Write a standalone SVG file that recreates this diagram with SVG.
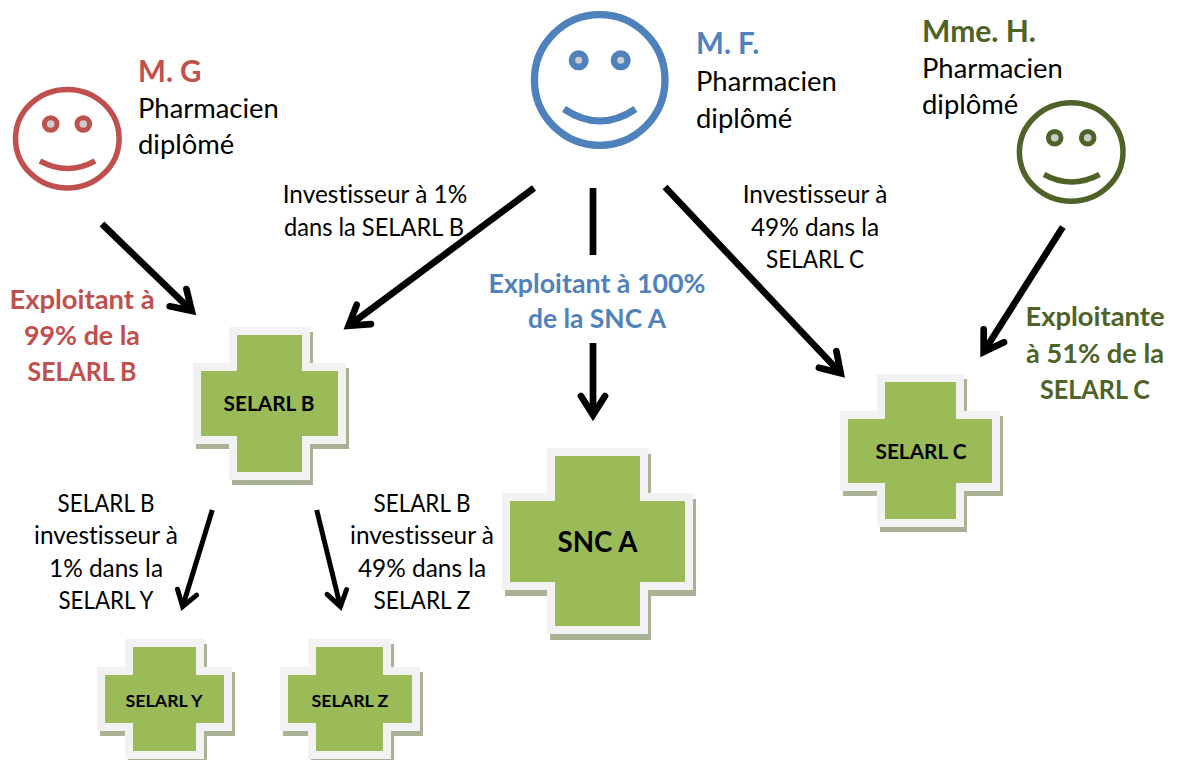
<svg xmlns="http://www.w3.org/2000/svg" width="1178" height="760" viewBox="0 0 1178 760">
<style>
text{font-family:"Lato","Carlito","Liberation Sans",sans-serif;fill:#000;font-variant-ligatures:none}
.m{text-anchor:middle}
.n{font-size:27.4px}
.i{font-size:24.4px}
.h{font-size:29.5px;font-weight:700}
.e{font-size:27.4px;font-weight:700}
.l{font-size:17.8px;font-weight:700;text-anchor:middle}
.red{fill:#C0504D}.blue{fill:#4F81BD}.olive{fill:#4F6228}
.shadow{fill:#A9B294;stroke:#A9B294;stroke-width:16;stroke-linejoin:miter}
.cross{fill:#9BBB59;stroke:#F2F2F2;stroke-width:16;paint-order:stroke;stroke-linejoin:miter}
.face{fill:none}
.eye{fill:#CCCCCC}
.big{fill:none;stroke:#000;stroke-width:6.7;marker-end:url(#ah)}
.stub{fill:none;stroke:#000;stroke-width:6.7}
.small{fill:none;stroke:#000;stroke-width:5;marker-end:url(#as)}
</style>
<defs>
<marker id="ah" markerUnits="userSpaceOnUse" markerWidth="44" markerHeight="44" viewBox="-36 -22 44 44" refX="-8" refY="0" orient="auto">
<path d="M-26,-12L-7,0L-26,12" fill="none" stroke="#000" stroke-width="6.7" stroke-linecap="round" stroke-linejoin="miter"/>
</marker>
<marker id="as" markerUnits="userSpaceOnUse" markerWidth="36" markerHeight="36" viewBox="-28 -18 36 36" refX="-6" refY="0" orient="auto">
<path d="M-20.5,-10L-5.4,0L-20.5,10" fill="none" stroke="#000" stroke-width="5" stroke-linecap="round" stroke-linejoin="miter"/>
</marker>
</defs>
<g id="connectors">
<path class="big" d="M102,224L191,310.2"/>
<path class="big" d="M534,188L349.4,325.2"/>
<path class="stub" d="M593,188V255"/>
<path class="big" d="M593,343V414"/>
<path class="big" d="M665,187L840,372.5"/>
<path class="big" d="M1062.8,227L984.2,351"/>
<path class="small" d="M212.3,510L182.8,606"/>
<path class="small" d="M316.7,510L340.3,606"/>
</g>
<g id="m-g">
<ellipse cx="67.3" cy="138.7" rx="51.8" ry="49.3" class="face" stroke="#C0504D" stroke-width="5.5"/>
<circle cx="50.7" cy="124" r="6.3" class="eye" stroke="#C0504D" stroke-width="5"/>
<circle cx="83.3" cy="124" r="6.3" class="eye" stroke="#C0504D" stroke-width="5"/>
<path d="M40,161Q67.5,176 95,161" class="face" stroke="#C0504D" stroke-width="5.5"/>
<text x="138" y="82" class="h red">M. G</text>
<text x="138" y="118" class="n">Pharmacien</text>
<text x="138" y="154" class="n">diplômé</text>
<text x="82" y="309" class="e m red">Exploitant à</text>
<text x="82" y="345" class="e m red" textLength="116" lengthAdjust="spacingAndGlyphs">99% de la</text>
<text x="82" y="381" class="e m red" textLength="109" lengthAdjust="spacingAndGlyphs">SELARL B</text>
</g>
<g id="m-f">
<circle cx="599.7" cy="80" r="65.3" class="face" stroke="#4F81BD" stroke-width="7.3"/>
<circle cx="578.7" cy="60.3" r="6.8" class="eye" stroke="#4F81BD" stroke-width="6.5"/>
<circle cx="620.7" cy="60.3" r="6.8" class="eye" stroke="#4F81BD" stroke-width="6.5"/>
<path d="M564,109Q600,133 635.5,109" class="face" stroke="#4F81BD" stroke-width="7"/>
<text x="696" y="54" class="h blue">M. F.</text>
<text x="696" y="91" class="n">Pharmacien</text>
<text x="696" y="128" class="n">diplômé</text>
<text x="597" y="293" class="e m blue" textLength="217" lengthAdjust="spacingAndGlyphs">Exploitant à 100%</text>
<text x="597" y="328" class="e m blue" textLength="138" lengthAdjust="spacingAndGlyphs">de la SNC A</text>
</g>
<g id="mme-h">
<ellipse cx="1071.2" cy="152" rx="51.8" ry="49.3" class="face" stroke="#4F6228" stroke-width="5.5"/>
<circle cx="1054.7" cy="137.7" r="6.3" class="eye" stroke="#4F6228" stroke-width="5"/>
<circle cx="1087.7" cy="137.7" r="6.3" class="eye" stroke="#4F6228" stroke-width="5"/>
<path d="M1044,174.5Q1071.5,189.5 1099.5,174.5" class="face" stroke="#4F6228" stroke-width="5.5"/>
<text x="922" y="42" class="h olive" textLength="114" lengthAdjust="spacingAndGlyphs">Mme. H.</text>
<text x="922" y="78" class="n">Pharmacien</text>
<text x="922" y="114" class="n">diplômé</text>
<text x="1095" y="326" class="e m olive">Exploitante</text>
<text x="1095" y="363" class="e m olive" textLength="138" lengthAdjust="spacingAndGlyphs">à 51% de la</text>
<text x="1095" y="399" class="e m olive" textLength="110" lengthAdjust="spacingAndGlyphs">SELARL C</text>
</g>
<g id="label-b-invest">
<text x="375" y="203" class="i m">Investisseur à 1%</text>
<text x="374" y="236" class="i m" textLength="180" lengthAdjust="spacingAndGlyphs">dans la SELARL B</text>
</g>
<g id="label-c-invest">
<text x="815" y="203" class="i m">Investisseur à</text>
<text x="815" y="236" class="i m">49% dans la</text>
<text x="815" y="268" class="i m" textLength="98" lengthAdjust="spacingAndGlyphs">SELARL C</text>
</g>
<g id="label-y-invest">
<text x="106" y="512" class="i m" textLength="97" lengthAdjust="spacingAndGlyphs">SELARL B</text>
<text x="106" y="544" class="i m">investisseur à</text>
<text x="106" y="577" class="i m">1% dans la</text>
<text x="106" y="609" class="i m" textLength="95" lengthAdjust="spacingAndGlyphs">SELARL Y</text>
</g>
<g id="label-z-invest">
<text x="422" y="512" class="i m" textLength="97" lengthAdjust="spacingAndGlyphs">SELARL B</text>
<text x="422" y="544" class="i m">investisseur à</text>
<text x="422" y="577" class="i m">49% dans la</text>
<text x="422" y="609" class="i m" textLength="97" lengthAdjust="spacingAndGlyphs">SELARL Z</text>
</g>
<g id="selarl-b">
<polygon class="shadow" transform="translate(3,5)" points="201,371 237,371 237,335 302,335 302,371 338,371 338,436 302,436 302,472 237,472 237,436 201,436"/>
<polygon class="cross" points="201,371 237,371 237,335 302,335 302,371 338,371 338,436 302,436 302,472 237,472 237,436 201,436"/>
<text x="269" y="411" class="l" style="font-size:20.8px">SELARL B</text>
</g>
<g id="snc-a">
<polygon class="shadow" transform="translate(3,6)" points="510,501 555,501 555,456 640,456 640,501 685,501 685,582 640,582 640,626 555,626 555,582 510,582"/>
<polygon class="cross" points="510,501 555,501 555,456 640,456 640,501 685,501 685,582 640,582 640,626 555,626 555,582 510,582"/>
<text x="597.5" y="552" class="l" style="font-size:27.7px">SNC A</text>
</g>
<g id="selarl-c">
<polygon class="shadow" transform="translate(3,5)" points="848,419 885,419 885,382 956,382 956,419 992,419 992,483 956,483 956,519 885,519 885,483 848,483"/>
<polygon class="cross" points="848,419 885,419 885,382 956,382 956,419 992,419 992,483 956,483 956,519 885,519 885,483 848,483"/>
<text x="921" y="459" class="l" style="font-size:20.8px">SELARL C</text>
</g>
<g id="selarl-y">
<polygon class="shadow" transform="translate(3,5)" points="105,675 133,675 133,647 196,647 196,675 224,675 224,723 196,723 196,751 133,751 133,723 105,723"/>
<polygon class="cross" points="105,675 133,675 133,647 196,647 196,675 224,675 224,723 196,723 196,751 133,751 133,723 105,723"/>
<text x="164" y="707" class="l">SELARL Y</text>
</g>
<g id="selarl-z">
<polygon class="shadow" transform="translate(3,5)" points="288,675 316,675 316,647 383,647 383,675 412,675 412,723 383,723 383,751 316,751 316,723 288,723"/>
<polygon class="cross" points="288,675 316,675 316,647 383,647 383,675 412,675 412,723 383,723 383,751 316,751 316,723 288,723"/>
<text x="350" y="707" class="l">SELARL Z</text>
</g>
</svg>
